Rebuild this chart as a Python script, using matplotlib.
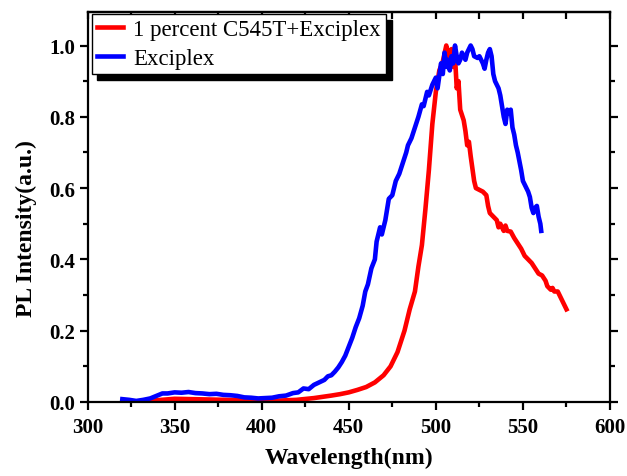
import matplotlib
matplotlib.use("Agg")
import matplotlib.pyplot as plt
from matplotlib.ticker import MultipleLocator

# red: 1 percent C545T + Exciplex
red_wl = [322, 330, 340, 350, 360, 370, 380, 390, 400, 410, 420, 430, 440, 445, 450, 455,
          460, 465, 470, 474, 478, 482, 485, 488, 490, 492, 494, 496, 498, 500, 502, 504,
          506, 507, 508, 509, 510, 511, 512, 513, 514, 516, 517, 518, 519, 520, 522, 523,
          525, 527, 529, 530, 531, 533, 535, 536, 537, 539, 540, 541, 543, 545, 547, 549,
          551, 553, 555, 557, 559, 561, 563, 564, 566, 567, 568, 570, 572, 574, 575]
red_int = [0.0, 0.002, 0.005, 0.009, 0.008, 0.007, 0.006, 0.005, 0.004, 0.004, 0.006, 0.011,
           0.018, 0.022, 0.027, 0.034, 0.042, 0.055, 0.075, 0.10, 0.14, 0.20, 0.26, 0.31,
           0.38, 0.44, 0.54, 0.65, 0.78, 0.87, 0.93, 0.955, 1.0, 0.98, 0.96, 0.99, 0.94,
           0.97, 0.88, 0.90, 0.82, 0.79, 0.76, 0.72, 0.73, 0.69, 0.62, 0.60, 0.595, 0.59,
           0.58, 0.55, 0.53, 0.52, 0.51, 0.49, 0.50, 0.48, 0.495, 0.48, 0.478, 0.46, 0.445,
           0.43, 0.41, 0.40, 0.39, 0.375, 0.36, 0.355, 0.34, 0.325, 0.315, 0.32, 0.31,
           0.31, 0.29, 0.27, 0.26]

# blue: Exciplex
blue_wl = [320, 324, 328, 332, 336, 340, 343, 346, 350, 354, 358, 362, 366, 370, 374, 378,
           382, 386, 390, 394, 398, 402, 406, 410, 414, 418, 421, 424, 427, 430, 433, 436,
           438, 440, 442, 444, 446, 448, 450, 452, 454, 456, 458, 459.5, 461, 463, 465, 466,
           467, 468, 469, 471, 473, 475, 477, 479, 481, 483, 484, 486, 488, 490, 492, 493,
           495, 496, 498, 500, 501, 503, 504, 505, 506, 507, 508, 509, 510, 511, 512, 513,
           514, 515, 517, 518, 520, 521, 522, 524, 525, 527, 528, 529, 530, 531, 532, 533,
           534, 536, 537, 538, 539, 540, 541, 542, 543, 544, 545, 546, 547, 548, 549, 550,
           551, 552, 553, 554, 555, 556, 557, 558, 559, 560, 560.5]
blue_int = [0.008, 0.006, 0.003, 0.006, 0.010, 0.018, 0.024, 0.024, 0.027, 0.026, 0.028,
            0.025, 0.024, 0.022, 0.023, 0.020, 0.019, 0.017, 0.013, 0.012, 0.010, 0.011,
            0.012, 0.016, 0.018, 0.025, 0.027, 0.038, 0.036, 0.048, 0.055, 0.062, 0.072,
            0.075, 0.085, 0.097, 0.112, 0.13, 0.155, 0.18, 0.21, 0.235, 0.27, 0.31, 0.33,
            0.375, 0.40, 0.45, 0.47, 0.49, 0.47, 0.51, 0.57, 0.58, 0.62, 0.64, 0.67, 0.70,
            0.72, 0.74, 0.77, 0.80, 0.835, 0.83, 0.87, 0.86, 0.89, 0.91, 0.88, 0.95, 0.92,
            0.98, 0.94, 0.96, 0.93, 0.97, 0.95, 1.0, 0.97, 0.95, 0.96, 0.98, 0.96, 0.98,
            1.0, 0.99, 0.97, 0.965, 0.97, 0.95, 0.935, 0.96, 0.98, 0.99, 0.97, 0.92, 0.90,
            0.88, 0.86, 0.83, 0.80, 0.78, 0.82, 0.81, 0.82, 0.77, 0.75, 0.72, 0.70, 0.675,
            0.65, 0.62, 0.61, 0.60, 0.59, 0.575, 0.545, 0.53, 0.545, 0.55, 0.52, 0.50, 0.48]

labels = ["1 percent C545T+Exciplex", "Exciplex"]

plt.rcParams['font.family'] = ['Liberation Serif', 'DejaVu Serif']

W, H = 627, 477
fig = plt.figure(figsize=(W / 100, H / 100), dpi=100)
ax = fig.add_axes([87.5 / W, 1 - 403 / H, (610 - 87.5) / W, (403 - 13) / H])

ax.plot(red_wl, red_int, color='#ff0000', lw=3.3, label=labels[0], solid_joinstyle='round')
ax.plot(blue_wl, blue_int, color='#0000ff', lw=3.3, label=labels[1], solid_joinstyle='round')

ax.set_xlim(300, 600)
ax.set_ylim(0, 1.094)
ax.xaxis.set_major_locator(MultipleLocator(50))
ax.xaxis.set_minor_locator(MultipleLocator(25))
ax.yaxis.set_major_locator(MultipleLocator(0.2))
ax.yaxis.set_minor_locator(MultipleLocator(0.1))

for s in ax.spines.values():
    s.set_linewidth(1.6)

ax.tick_params(which='both', direction='out', width=1.6, top=False, right=True,
               labelsize=15)
ax.tick_params(which='major', length=6, pad=3)
ax.tick_params(axis='x', which='major', pad=5)
ax.tick_params(which='minor', length=3.5)
for t in ax.get_xticklabels() + ax.get_yticklabels():
    t.set_fontweight('bold')

# inward ticks along the top
sec = ax.secondary_xaxis('top')
sec.xaxis.set_major_locator(MultipleLocator(25))
sec.tick_params(direction='in', length=5, width=1.6, labeltop=False)
sec.spines['top'].set_linewidth(1.6)

ax.set_xlabel("Wavelength(nm)", fontsize=17, fontweight='bold', labelpad=7)
ax.set_ylabel("PL Intensity(a.u.)", fontsize=17, fontweight='bold')
ax.yaxis.set_label_coords(-0.097, 0.446)

leg = ax.legend(loc='upper left', bbox_to_anchor=(91.7 / W, 1 - 15 / H),
                bbox_transform=fig.transFigure, borderaxespad=0, fancybox=False,
                prop={'family': 'Liberation Serif', 'size': 16.5},
                handlelength=1.15, handletextpad=0.45, labelspacing=0.34,
                borderpad=0.22,
                shadow={'color': 'black', 'alpha': 1, 'ox': 4, 'oy': -4})
leg.get_frame().set_edgecolor('black')
leg.get_frame().set_linewidth(1.0)

fig.savefig("out.png", dpi=100)
